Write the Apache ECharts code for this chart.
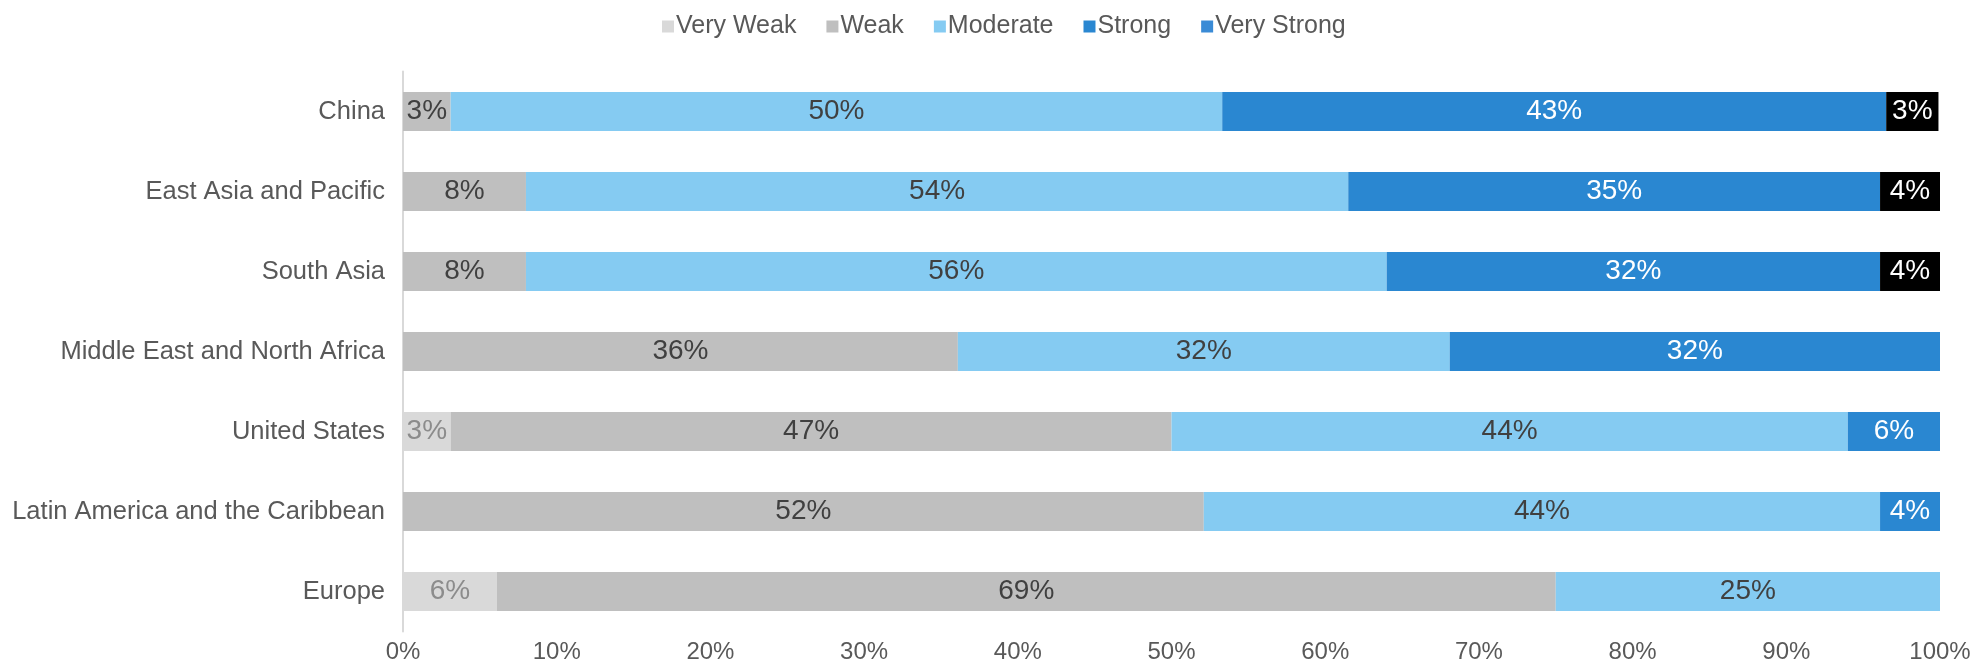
<!DOCTYPE html>
<html>
<head>
<meta charset="utf-8">
<script src="https://cdn.jsdelivr.net/npm/echarts@6/dist/echarts.min.js"></script>
<style>
  html, body { margin: 0; padding: 0; background: #fff; }
  #main { width: 1974px; height: 661px; }
</style>
</head>
<body>
<div id="main"></div>
<script>
// regions, top to bottom
var categories = ['China', 'East Asia and Pacific', 'South Asia', 'Middle East and North Africa',
    'United States', 'Latin America and the Caribbean', 'Europe'];
// shares in %
var veryWeak   = [null, null, null, null, 3.1, null, 6.1];
var weak       = [3.1, 8.0, 8.0, 36.1, 46.9, 52.1, 68.9];
var moderate   = [50.2, 53.5, 56.0, 32.0, 44.0, 44.0, 25.0];
var strong     = [43.2, 34.6, 32.1, 31.9, 6.0, 3.9, null];
var veryStrong = [3.4, 3.9, 3.9, null, null, null, null];
var xTicks = [0, 10, 20, 30, 40, 50, 60, 70, 80, 90, 100];

(function(){
    var font = '"Liberation Sans", Arial, sans-serif';
    var textColor = '#595959';

    function bar(name, data, color, labelColor){
        return {
            name: name,
            type: 'bar',
            stack: 'total',
            barWidth: 39,
            data: data,
            itemStyle: {color: color},
            label: {
                show: true,
                position: 'inside',
                color: labelColor,
                fontSize: 28,
                fontFamily: font,
                formatter: function(p){ return Math.round(p.value) + '%'; }
            },
            emphasis: {disabled: true}
        };
    }

    var option = {
        animation: false,
        textStyle: {fontFamily: font},
        legend: {
            top: 9,
            left: 657,
            itemWidth: 12,
            itemHeight: 12,
            itemGap: 30,
            textStyle: {fontSize: 25, color: textColor, fontFamily: font, padding: [0, 0, 0, -3]},
            data: [
                {name: 'Very Weak', icon: 'rect'},
                {name: 'Weak', icon: 'rect'},
                {name: 'Moderate', icon: 'rect'},
                {name: 'Strong', icon: 'rect'},
                {name: 'Very Strong', icon: 'rect', itemStyle: {color: '#3a8bd6'}}
            ]
        },
        grid: {left: 403, right: 34, top: 71.5, bottom: 29.5, containLabel: false, outerBoundsMode: 'none'},
        xAxis: {
            type: 'value',
            min: xTicks[0],
            max: xTicks[xTicks.length - 1],
            interval: 10,
            axisLine: {show: false},
            axisTick: {show: false},
            splitLine: {show: false},
            axisLabel: {
                fontSize: 24,
                color: textColor,
                margin: 9,
                formatter: '{value}%'
            }
        },
        yAxis: {
            type: 'category',
            inverse: true,
            data: categories,
            axisLine: {show: true, lineStyle: {color: '#d9d9d9', width: 2}},
            axisTick: {show: false},
            axisLabel: {fontSize: 25.5, color: textColor, margin: 18}
        },
        series: [
            bar('Very Weak', veryWeak, '#d9d9d9', '#8c8c8c'),
            bar('Weak', weak, '#bfbfbf', '#404040'),
            bar('Moderate', moderate, '#85cbf2', '#404040'),
            bar('Strong', strong, '#2a87d1', '#ffffff'),
            bar('Very Strong', veryStrong, '#000000', '#ffffff')
        ]
    };

    var myChart = echarts.init(document.getElementById('main'));
    myChart.setOption(option);
})();
</script>
</body>
</html>
